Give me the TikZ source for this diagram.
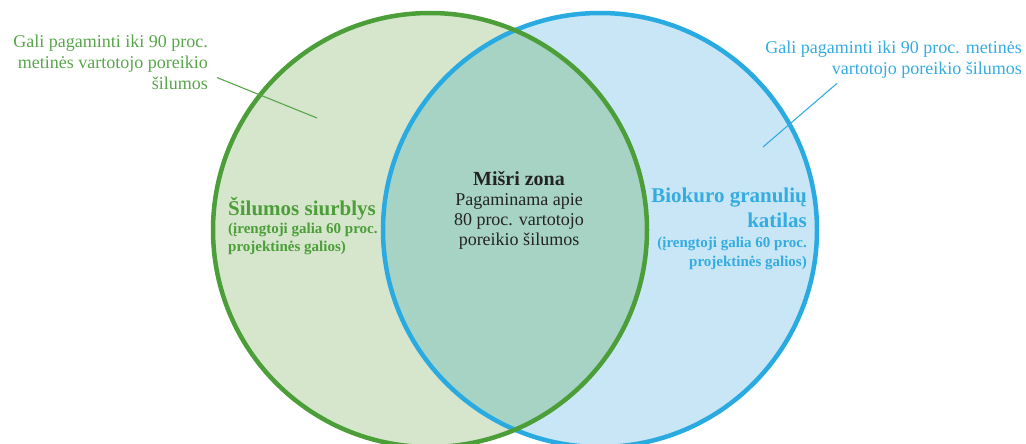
\documentclass[tikz,border=0pt]{standalone}
\usepackage{fontspec}
\setmainfont{Liberation Serif}
\usetikzlibrary{positioning}
\definecolor{hpline}{RGB}{76,158,56}
\definecolor{hpfill}{RGB}{213,230,205}
\definecolor{hptext}{RGB}{88,166,74}
\definecolor{bgline}{RGB}{41,171,226}
\definecolor{bgfill}{RGB}{200,230,245}
\definecolor{bgtext}{RGB}{52,172,226}
\definecolor{mixfill}{RGB}{167,211,196}
\definecolor{mixtext}{RGB}{35,35,35}
\tikzset{
  ring/.style={line width=4.5pt},
  leader/.style={line width=1.1pt},
  note/.style={inner sep=0pt, font=\fontsize{18}{21}\selectfont},
  label/.style={inner sep=0pt, font=\bfseries\fontsize{21}{25}\selectfont},
  sublabel/.style={inner sep=0pt, font=\bfseries\fontsize{15}{18.5}\selectfont},
}

\begin{document}
\begin{tikzpicture}[x=1pt, y=-1pt]
  \useasboundingbox (0,0) rectangle (1026,444);
  \def\r{217pt} % circle radius

  % --- CIRCLES ---
  \fill[hpfill] (430,230) circle (\r);
  \fill[bgfill] (600,230) circle (\r);
  \begin{scope}
    \clip (430,230) circle (\r);
    \fill[mixfill] (600,230) circle (\r);
  \end{scope}
  \draw[ring, bgline] (600,230) circle (\r);
  \draw[ring, hpline] (430,230) circle (\r);

  % --- HEAT PUMP (left) ---
  \node[note, hptext, align=right, anchor=north east] (hpnote) at (208,34.5)
    {Gali pagaminti iki 90 proc.\\metinės vartotojo poreikio\\šilumos};
  \coordinate (hptip) at (317,118);
  \draw[leader, hptext] ([xshift=9pt, yshift=12pt]hpnote.south east) -- (hptip);
  \node[label, hpline, anchor=base west] (hplabel) at (228,215) {Šilumos siurblys};
  \node[sublabel, hpline, align=left, below=3pt of hplabel.south west, anchor=north west] (hpsub)
    {(įrengtoji galia 60 proc.\\projektinės galios)};

  % --- PELLET BOILER (right) ---
  \node[note, bgtext, align=right, anchor=north east] (bgnote) at (1022,40.5)
    {Gali pagaminti iki 90 proc. metinės\\vartotojo poreikio šilumos};
  \coordinate (bgtip) at (763,147);
  \draw[leader, bgtext] ([xshift=72pt, yshift=-5pt]bgnote.south west) -- (bgtip);
  \node[label, bgtext, align=right, anchor=north east] (bglabel) at (807,187.5)
    {Biokuro granulių\\katilas};
  \node[sublabel, bgtext, align=right, below=9.5pt of bglabel.south east, anchor=north east] (bgsub)
    {(įrengtoji galia 60 proc.\\projektinės galios)};

  % --- MIXED ZONE ---
  \node[note, mixtext, align=center, anchor=north, font=\fontsize{18}{20}\selectfont] (mix) at (519,171)
    {{\bfseries\fontsize{20}{20}\selectfont Mišri zona}\\Pagaminama apie\\80 proc. vartotojo\\poreikio šilumos};
\end{tikzpicture}
\end{document}
